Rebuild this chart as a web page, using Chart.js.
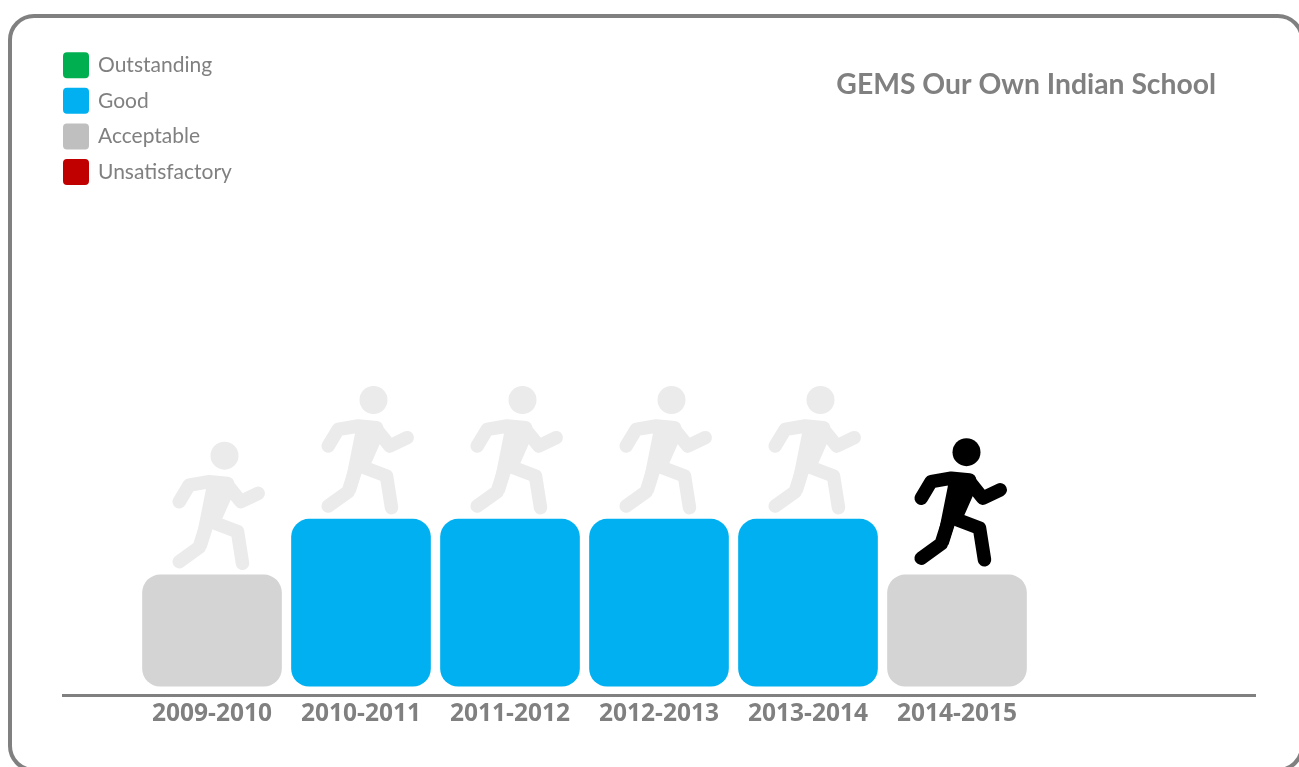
<!DOCTYPE html>
<html>
<head>
<meta charset="utf-8">
<title>GEMS Our Own Indian School</title>
<script src="https://cdn.jsdelivr.net/npm/chart.js@4/dist/chart.umd.min.js"></script>
<style>
    html, body { margin: 0; padding: 0; background: #fff; overflow: hidden; }
    #wrap { position: relative; width: 1299px; height: 767px; overflow: hidden; }
    #frame {
        position: absolute; left: 8px; top: 14px; width: 1296px; height: 758px;
        box-sizing: border-box; border: 4px solid #808080; border-radius: 26px;
    }
    #chart { position: absolute; left: 0; top: 0; }
</style>
</head>
<body>
<div id="wrap">
    <div id="frame"></div>
    <canvas id="chart" width="1299" height="767"></canvas>
</div>
<script>
const chartTitle = 'GEMS Our Own Indian School';
// blank labels keep the empty room either side of the six years
const years = ['', '2009-2010', '2010-2011', '2011-2012', '2012-2013', '2013-2014', '2014-2015', '', ''];
const outstanding = [null, null, null, null, null, null, null, null, null];
const good = [null, null, 3, 3, 3, 3, null, null, null];
const acceptable = [null, 2, null, null, null, null, 2, null, null];
const unsatisfactory = [null, null, null, null, null, null, null, null, null];
const currentYear = '2014-2015';

const grey = '#808080';
const legendFont = { family: 'Lato, sans-serif', size: 21 };
const tickFont = { family: '"Open Sans", sans-serif', size: 24.5, weight: 'bold' };

// runner outline, relative to the middle of the top edge of a bar
const runnerStrokes = [
    [[-35.8, -76.7], [-25.8, -93.3], [-5.8, -96.7], [12.5, -95]],
    [[12.5, -93.3], [25.8, -76.7], [43.2, -85]],
    [[-35.8, -16.7], [-15.8, -31], [-8.2, -55]],
    [[0.8, -55], [22.5, -46.7], [27.5, -15]]
];
const runnerBody = [[-9.2, -101.7], [15.8, -100], [20.8, -90], [7.5, -60], [-2.5, -49], [-8.5, -30], [-20, -34.3], [-9.2, -88.3]];

function drawRunner(ctx, x, y, color) {
    ctx.save();
    ctx.translate(x, y);
    ctx.strokeStyle = color;
    ctx.fillStyle = color;
    ctx.lineWidth = 13.5;
    ctx.lineCap = 'round';
    ctx.lineJoin = 'round';
    runnerStrokes.forEach(points => {
        ctx.beginPath();
        points.forEach((p, i) => i ? ctx.lineTo(p[0], p[1]) : ctx.moveTo(p[0], p[1]));
        ctx.stroke();
    });
    ctx.beginPath();
    runnerBody.forEach((p, i) => i ? ctx.lineTo(p[0], p[1]) : ctx.moveTo(p[0], p[1]));
    ctx.fill();
    ctx.beginPath();
    ctx.arc(9.5, -122.7, 14, 0, Math.PI * 2);
    ctx.fill();
    ctx.restore();
}

// stands a runner on each bar, the current year in black
const runnersPlugin = {
    id: 'runners',
    afterDatasetsDraw(chart) {
        chart.data.datasets.forEach((ds, d) => {
            chart.getDatasetMeta(d).data.forEach((bar, i) => {
                if (ds.data[i] === null) return;
                if (years[i] === currentYear) {
                    drawRunner(chart.ctx, bar.x, bar.y, '#000000');
                } else {
                    drawRunner(chart.ctx, bar.x + 3, bar.y + 3.5, '#ebebeb');
                }
            });
        });
    }
};

const titlePlugin = {
    id: 'schoolTitle',
    afterDraw(chart) {
        const ctx = chart.ctx;
        ctx.save();
        ctx.font = 'bold 28.3px Lato, sans-serif';
        ctx.fillStyle = grey;
        ctx.textAlign = 'right';
        ctx.textBaseline = 'middle';
        ctx.fillText(chartTitle, 1216, 85);
        ctx.restore();
    }
};

// a chartArea legend always lays out from the canvas top, so move it down here
const legendPlacePlugin = {
    id: 'legendPlace',
    afterLayout(chart) {
        chart.legend.left = 51.9;
        chart.legend.top = 41.1;
    }
};

function barSet(label, data, color, legendColor) {
    return {
        label, data,
        backgroundColor: color,
        legendColor,
        borderRadius: 18,
        borderSkipped: false,
        barThickness: 139
    };
}

new Chart(document.getElementById('chart'), {
    type: 'bar',
    data: {
        labels: years,
        datasets: [
            barSet('Outstanding', outstanding, '#00b050', '#00b050'),
            barSet('Good', good, '#00b0f0', '#00b0f0'),
            barSet('Acceptable', acceptable, '#d4d4d4', '#bfbfbf'),
            barSet('Unsatisfactory', unsatisfactory, '#c00000', '#c00000')
        ]
    },
    options: {
        responsive: false,
        animation: false,
        layout: { padding: { left: 63, right: 44, top: 51, bottom: 41.5 } },
        plugins: {
            tooltip: { enabled: false },
            legend: {
                position: 'chartArea',
                align: 'start',
                onClick: null,
                labels: {
                    // small box plus border of the same colour, this pulls the text closer
                    boxWidth: 23,
                    boxHeight: 23,
                    padding: 12.6,
                    useBorderRadius: true,
                    borderRadius: 2.5,
                    color: grey,
                    font: legendFont,
                    generateLabels(chart) {
                        return chart.data.datasets.map((ds, i) => ({
                            text: ds.label,
                            fillStyle: ds.legendColor,
                            strokeStyle: ds.legendColor,
                            lineWidth: 3,
                            fontColor: grey,
                            borderRadius: 2.5,
                            datasetIndex: i
                        }));
                    }
                }
            }
        },
        scales: {
            x: {
                stacked: true,
                offset: false,
                grid: { display: false },
                border: { color: grey, width: 3 },
                ticks: { color: grey, font: tickFont, autoSkip: false, maxRotation: 0, padding: -3.5 }
            },
            y: {
                stacked: true,
                display: false,
                min: -0.16,
                max: 11.41
            }
        }
    },
    plugins: [runnersPlugin, titlePlugin, legendPlacePlugin]
});
</script>
</body>
</html>
